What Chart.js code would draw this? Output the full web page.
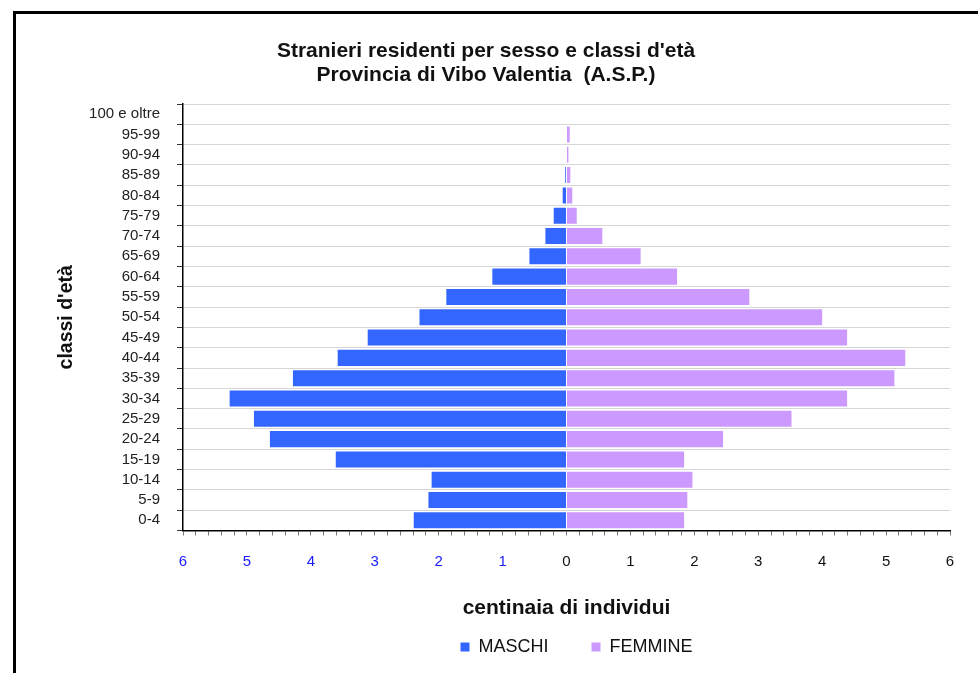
<!DOCTYPE html>
<html>
<head>
<meta charset="utf-8">
<title>Stranieri residenti per sesso e classi d'età</title>
<script src="https://cdn.jsdelivr.net/npm/chart.js@4"></script>
<style>
  body { margin: 0; background: #fff; overflow: hidden; }
  #wrap { position: relative; width: 978px; height: 673px; overflow: hidden; }
  #frame { position: absolute; left: 13px; top: 11px; width: 1000px; height: 700px; border: 3px solid #000; }
  #myChart { position: absolute; left: 0; top: 0; }
</style>
</head>
<body>
<div id="wrap">
  <div id="frame"></div>
  <canvas id="myChart" width="978" height="673"></canvas>
</div>
<script>
// classi d'età (dal basso verso l'alto)
let classi = ['0-4', '5-9', '10-14', '15-19', '20-24', '25-29', '30-34', '35-39',
  '40-44', '45-49', '50-54', '55-59', '60-64', '65-69', '70-74', '75-79',
  '80-84', '85-89', '90-94', '95-99', '100 e oltre'];

// centinaia di individui
let maschi = [2.39, 2.16, 2.11, 3.61, 4.64, 4.89, 5.27, 4.28, 3.58, 3.11, 2.30,
  1.88, 1.16, 0.58, 0.33, 0.20, 0.06, 0.02, 0, 0, 0];
let femmine = [1.84, 1.89, 1.97, 1.84, 2.45, 3.52, 4.39, 5.13, 5.30, 4.39, 4.00,
  2.86, 1.73, 1.16, 0.56, 0.16, 0.09, 0.06, 0.03, 0.05, 0];

// asse orizzontale: da -6 a 6, tacche ogni 0.2
let xMax = 6;
let xStep = 0.2;

Chart.defaults.font.family = "'Liberation Sans', Arial, sans-serif";
Chart.defaults.color = '#111';

// i maschi vanno a sinistra, quindi valori negativi
let maschiNeg = maschi.map(v => -v);

// sposta un po' titolo e legenda verso destra, come nell'originale
const boxShift = {
  id: 'boxShift',
  afterLayout(chart) {
    chart.legend.left += 10;
    chart.legend.right += 10;
    chart.titleBlock.left += 11;
    chart.titleBlock.right += 11;
  }
};

let options = {
  type: 'bar',
  data: {
    labels: classi,
    datasets: [{
      label: 'MASCHI',
      data: maschiNeg,
      backgroundColor: '#3366ff',
      barPercentage: 0.79,
      categoryPercentage: 1
    }, {
      label: 'FEMMINE',
      data: femmine,
      backgroundColor: '#cc99ff',
      barPercentage: 0.79,
      categoryPercentage: 1
    }]
  },
  plugins: [boxShift],
  options: {
    indexAxis: 'y',
    responsive: false,
    animation: false,
    layout: { padding: { left: 0, right: 28, top: 0, bottom: 7 } },
    plugins: {
      title: {
        display: true,
        text: ["Stranieri residenti per sesso e classi d'età", 'Provincia di Vibo Valentia  (A.S.P.)'],
        color: '#111',
        font: { size: 21, weight: 'bold', lineHeight: 1.143 },
        padding: { top: 39, bottom: 17 }
      },
      legend: {
        position: 'bottom',
        fullSize: false,
        labels: {
          boxWidth: 9,
          boxHeight: 9,
          padding: 8,
          color: '#111',
          font: { size: 18 },
          // un po' di spazio in più dopo MASCHI
          generateLabels: function(chart) {
            let items = Chart.defaults.plugins.legend.labels.generateLabels(chart);
            items[0].text = items[0].text + '       ';
            return items;
          }
        }
      },
      tooltip: { enabled: false }
    },
    scales: {
      x: {
        stacked: true,
        min: -xMax,
        max: xMax,
        border: { color: '#000', width: 1.5 },
        grid: {
          drawOnChartArea: false,
          drawTicks: true,
          tickLength: 5,
          tickColor: '#777'
        },
        ticks: {
          stepSize: xStep,
          autoSkip: false,
          maxRotation: 0,
          padding: 17,
          font: { size: 15 },
          color: ctx => ctx.tick.value < 0 ? '#1a1aff' : '#111',
          callback: function(value) {
            if (Math.abs(value - Math.round(value)) > 1e-6) return '';
            return Math.abs(Math.round(value));
          }
        },
        title: {
          display: true,
          text: 'centinaia di individui',
          color: '#111',
          font: { size: 21, weight: 'bold' },
          padding: { top: 4, bottom: 9 }
        },
        afterFit: function(scale) { scale.height = 99.5; }
      },
      y: {
        stacked: true,
        reverse: true,
        border: { color: '#000', width: 1.5 },
        grid: {
          offset: true,
          color: '#d6d6d6',
          lineWidth: 1,
          tickLength: 6,
          tickColor: '#333'
        },
        ticks: {
          autoSkip: false,
          padding: 17,
          color: '#222',
          font: { size: 15 }
        },
        title: {
          display: true,
          text: "classi d'età",
          color: '#111',
          font: { size: 19.5, weight: 'bold' },
          padding: { top: 55, bottom: 4 }
        },
        afterFit: function(scale) { scale.width = 183; }
      }
    }
  }
};

const myChart = new Chart(
  document.getElementById('myChart'),
  options
);
</script>
</body>
</html>
